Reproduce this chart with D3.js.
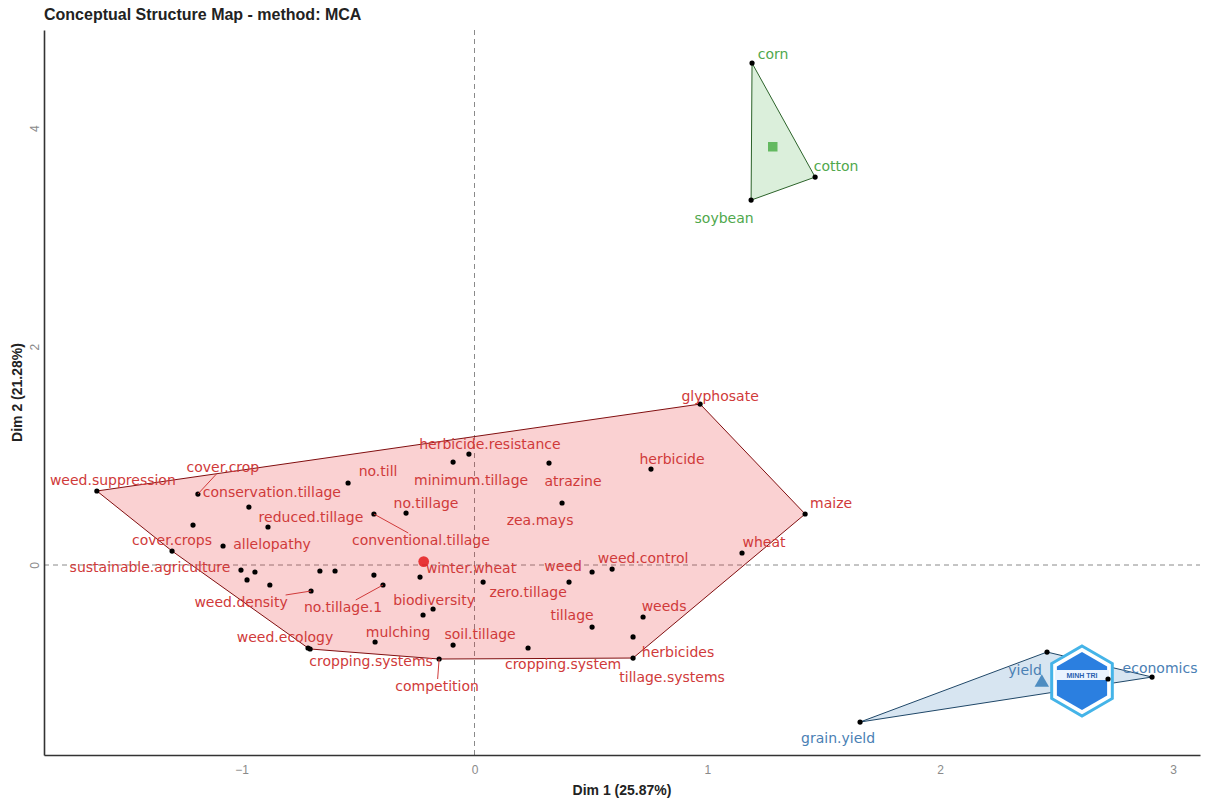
<!DOCTYPE html>
<html>
<head>
<meta charset="utf-8">
<script src="https://cdn.jsdelivr.net/npm/d3@7"></script>
<style>
    body { margin: 0; background: #fff; }
    svg { display: block; font-family: "Liberation Sans", Arial, sans-serif; }
    .lbl { font-family: "DejaVu Sans", Verdana, sans-serif; font-size: 14px; }
</style>
</head>
<body>
<svg id="chart" width="1205" height="803"></svg>
<script>
// MCA word coordinates (null = point whose label was hidden by the repel step)
const words = [
    "weed.suppression", "cover.crop", "conservation.tillage", null, "reduced.tillage", "allelopathy",
    "cover.crops", "sustainable.agriculture", null, null, null, null, null, "weed.density",
    "herbicide.resistance", "minimum.tillage", "atrazine", "no.till", "no.tillage", "conventional.tillage",
    "zea.mays", null, "winter.wheat", "no.tillage.1", "zero.tillage", "weed", null, "weed.control",
    "biodiversity", null, "mulching", "soil.tillage", "cropping.system", "competition", "weed.ecology",
    "cropping.systems", "tillage", "weeds", "herbicides", "tillage.systems", "glyphosate", "herbicide",
    "maize", "wheat",
    "corn", "cotton", "soybean",
    "yield", "economics", "grain.yield", null
];
const dim1 = [
    -1.622, -1.188, -0.969, -1.209, -0.887, -1.080,
    -1.299, -1.003, -0.943, -0.977, -0.879, -0.664, -0.599, -0.702,
    -0.024, -0.092, 0.320, -0.543, -0.294, -0.432,
    0.376, -0.432, -0.234, -0.393, 0.037, 0.406, 0.505, 0.591,
    -0.178, -0.221, -0.427, -0.092, 0.230, -0.152, -0.715,
    -0.706, 0.505, 0.724, 0.681, 0.681, 0.969, 0.758,
    1.420, 1.149,
    1.192, 1.463, 1.188,
    2.459, 2.910, 1.656, 2.721
];
const dim2 = [
    0.678, 0.650, 0.531, 0.366, 0.348, 0.174,
    0.128, -0.046, -0.064, -0.137, -0.183, -0.055, -0.055, -0.238,
    1.016, 0.943, 0.934, 0.751, 0.476, 0.467,
    0.568, -0.092, -0.110, -0.183, -0.156, -0.156, -0.064, -0.037,
    -0.403, -0.458, -0.705, -0.733, -0.760, -0.861, -0.760,
    -0.769, -0.568, -0.476, -0.659, -0.852, 1.474, 0.879,
    0.467, 0.110,
    4.597, 3.553, 3.342,
    -0.797, -1.026, -1.438, -1.044
];
const cluster = [
    1, 1, 1, 1, 1, 1, 1, 1, 1, 1, 1, 1, 1, 1,
    1, 1, 1, 1, 1, 1, 1, 1, 1, 1, 1, 1, 1, 1,
    1, 1, 1, 1, 1, 1, 1, 1, 1, 1, 1, 1, 1, 1,
    1, 1,
    3, 3, 3,
    2, 2, 2, 2
];
const xTicks = [-1, 0, 1, 2, 3];
const yTicks = [0, 2, 4];

// layout: where ggrepel put each label, in px from its point; third item = drawn with a leader
const nudge = {
    "weed.suppression": [16, -11], "cover.crop": [25, -27, 1], "conservation.tillage": [23, -15],
    "reduced.tillage": [43, -10], "allelopathy": [49, -2], "cover.crops": [0, -11],
    "sustainable.agriculture": [-91, -3], "weed.density": [-70, 11, 1], "herbicide.resistance": [21, -10],
    "minimum.tillage": [18, 18], "atrazine": [24, 18], "no.till": [30, -12], "no.tillage": [20, -10],
    "conventional.tillage": [47, 26, 1], "zea.mays": [-22, 17], "winter.wheat": [51, -9],
    "no.tillage.1": [-40, 22, 1], "zero.tillage": [45, 10], "weed": [-6, -16], "weed.control": [31, -11],
    "biodiversity": [1, -9], "mulching": [23, -10], "soil.tillage": [27, -11], "cropping.system": [35, 16],
    "competition": [-2, 27, 1], "weed.ecology": [-23, -11], "cropping.systems": [61, 12],
    "tillage": [-20, -12], "weeds": [21, -11], "herbicides": [45, 15], "tillage.systems": [39, 19],
    "glyphosate": [20, -8], "herbicide": [21, -10], "maize": [26, -11], "wheat": [22, -11],
    "corn": [21, -9], "cotton": [21, -11], "soybean": [-27, 18],
    "yield": [-22, 18], "economics": [8, -9], "grain.yield": [-22, 16]
};

const colors = { 1: "#E41A1C", 2: "#377EB8", 3: "#4DAF4A" };
const textColors = { 1: "#d03a3a", 2: "#4a80b4", 3: "#4fa84c" };
const mLeft = 44, mRight = 1200, mTop = 30, mBottom = 755;

const svg = d3.select("#chart");
const x = d3.scaleLinear().domain([-1.849, 3.116]).range([mLeft, mRight]);
const y = d3.scaleLinear().domain([-1.74, 4.90]).range([mBottom, mTop]);

const pts = words.map((w, i) => ({ w, cl: cluster[i], px: x(dim1[i]), py: y(dim2[i]) }));

svg.append("text").attr("x", 44).attr("y", 20)
    .attr("font-size", 16).attr("font-weight", "bold").attr("fill", "#222")
    .text("Conceptual Structure Map - method: MCA");

// reference lines through the origin
svg.append("line").attr("x1", x(0)).attr("x2", x(0)).attr("y1", mTop).attr("y2", mBottom)
    .attr("stroke", "#8a8a8a").attr("stroke-dasharray", "5,4");
svg.append("line").attr("x1", mLeft).attr("x2", mRight).attr("y1", y(0)).attr("y2", y(0))
    .attr("stroke", "#8a8a8a").attr("stroke-dasharray", "5,4");

// cluster hulls
const groups = d3.group(pts, d => d.cl);
for (const [cl, g] of groups) {
    const hull = d3.polygonHull(g.map(d => [d.px, d.py]));
    svg.append("path").attr("d", "M" + hull.join("L") + "Z")
        .attr("fill", colors[cl]).attr("fill-opacity", 0.2)
        .attr("stroke", d3.color(colors[cl]).darker(1.6)).attr("stroke-width", 1);
}

// watermark logo over the blue cluster (decoration)
const logo = svg.append("g").attr("transform", "translate(1082,681)");
const hex = r => d3.range(6).map(k => [r * Math.sin(k * Math.PI / 3), -r * Math.cos(k * Math.PI / 3)]);
logo.append("path").attr("d", "M" + hex(35).join("L") + "Z").attr("fill", "#fff")
    .attr("stroke", "#45b4e8").attr("stroke-width", 3);
logo.append("path").attr("d", "M" + hex(29).join("L") + "Z").attr("fill", "#2b7fe0");
logo.append("rect").attr("x", -27).attr("y", -11).attr("width", 54).attr("height", 10).attr("fill", "#eaf3ff");
logo.append("text").attr("x", 0).attr("y", -3).attr("text-anchor", "middle")
    .attr("font-size", 7).attr("font-weight", "bold").attr("fill", "#2b5fb0").text("MINH TRI");

// points
svg.append("g").selectAll("circle").data(pts).join("circle")
    .attr("cx", d => d.px).attr("cy", d => d.py).attr("r", 2.6).attr("fill", "#000");

// labels with leaders
const lab = svg.append("g");
pts.filter(d => d.w).forEach(d => {
    const n = nudge[d.w] || [0, -10];
    const lx = d.px + n[0], ly = d.py + n[1];
    const t = lab.append("text").attr("class", "lbl")
        .attr("x", lx).attr("y", ly).attr("dy", "0.35em").attr("text-anchor", "middle")
        .attr("fill", textColors[d.cl]).text(d.w);
    if (n[2]) {
        const b = t.node().getBBox();
        const hw = b.width / 2 + 1, hh = b.height / 2 - 1;
        const dx = d.px - lx, dy = d.py - ly;
        const s = Math.min(Math.abs(hw / dx) || Infinity, Math.abs(hh / dy) || Infinity);
        lab.append("line").attr("x1", d.px).attr("y1", d.py)
            .attr("x2", lx + dx * s).attr("y2", ly + dy * s)
            .attr("stroke", textColors[d.cl]).attr("stroke-width", 1);
    }
});

// cluster centroids
const sym = { 1: d3.symbolCircle, 2: d3.symbolTriangle, 3: d3.symbolSquare };
for (const [cl, g] of groups) {
    svg.append("path")
        .attr("transform", `translate(${d3.mean(g, d => d.px)},${d3.mean(g, d => d.py)})`)
        .attr("d", d3.symbol(sym[cl], 90)())
        .attr("fill", colors[cl]).attr("fill-opacity", 0.85);
}

// axes
const xa = svg.append("g").attr("transform", `translate(0,${mBottom})`)
    .call(d3.axisBottom(x).tickValues(xTicks).tickFormat(d3.format("d"))
        .tickSize(0).tickPadding(10).tickSizeOuter(0));
xa.select(".domain").attr("stroke", "#333").attr("stroke-width", 1.6);
xa.selectAll("text").attr("fill", "#8a8a8a").attr("font-size", 12);

const ya = svg.append("g").attr("transform", `translate(${mLeft},0)`)
    .call(d3.axisLeft(y).tickValues(yTicks).tickFormat(d3.format("d")).tickSize(0).tickSizeOuter(0));
ya.select(".domain").attr("stroke", "#333").attr("stroke-width", 1.6);
ya.selectAll("text").attr("fill", "#8a8a8a").attr("font-size", 12)
    .attr("x", 0).attr("dy", 0).attr("text-anchor", "middle")
    .attr("transform", "translate(-5,0) rotate(-90)");

svg.append("text").attr("x", (mLeft + mRight) / 2).attr("y", 795).attr("text-anchor", "middle")
    .attr("font-size", 14).attr("font-weight", "bold").attr("fill", "#222").text("Dim 1 (25.87%)");
svg.append("text").attr("transform", `translate(22,${(mTop + mBottom) / 2}) rotate(-90)`)
    .attr("text-anchor", "middle").attr("font-size", 14).attr("font-weight", "bold").attr("fill", "#222")
    .text("Dim 2 (21.28%)");
</script>
</body>
</html>
